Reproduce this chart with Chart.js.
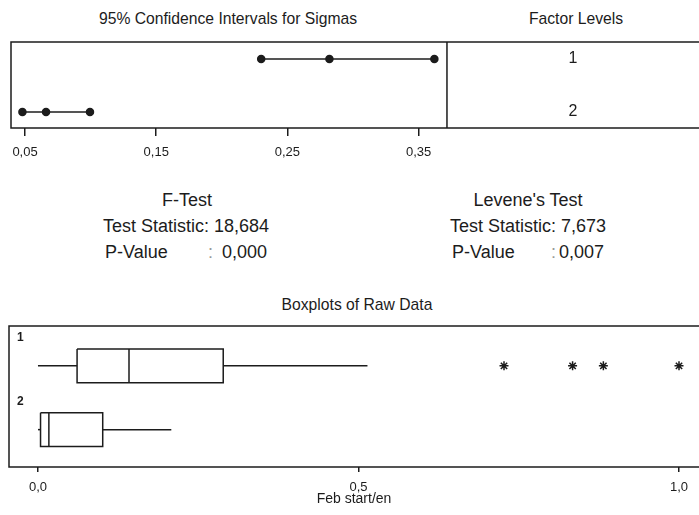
<!DOCTYPE html>
<html>
<head>
<meta charset="utf-8">
<script src="https://cdn.jsdelivr.net/npm/chart.js@4.4.1/dist/chart.umd.min.js"></script>
<style>
    html, body { margin: 0; padding: 0; background: #fff; overflow: hidden; }
    body { width: 699px; height: 515px; position: relative; font-family: "Liberation Sans", Arial, sans-serif; color: #1c1c1c; }
    canvas { position: absolute; left: 0; }
    .label { position: absolute; white-space: pre; line-height: 1; transform: translateY(-50%); }
    .center { transform: translate(-50%, -50%); }
    .title { font-size: 15.7px; }
    .stat { font-size: 18px; }
</style>
</head>
<body>
<div class="label center title" style="left:228px; top:19px;">95% Confidence Intervals for Sigmas</div>
<div class="label center title" style="left:576px; top:19px;">Factor Levels</div>
<div class="label center title" style="left:357px; top:305px;">Boxplots of Raw Data</div>
<div id="stats"></div>
<canvas id="sigmaChart" width="699" height="180" style="top:0"></canvas>
<canvas id="rawChart" width="699" height="235" style="top:280px"></canvas>
<script>
// level names and the 95% CIs for sigma
const levels = ['1', '2'];
const sigmaLower = [0.230, 0.048];
const sigmaEstimate = [0.282, 0.066];
const sigmaUpper = [0.362, 0.0995];
const sigmaTicks = [0.05, 0.15, 0.25, 0.35];

// boxplot summaries of the raw data
const boxMin = [0.0, 0.0];
const boxQ1 = [0.061, 0.004];
const boxMedian = [0.142, 0.017];
const boxQ3 = [0.289, 0.101];
const boxMax = [0.514, 0.208];
const boxOutliers = [[0.727, 0.834, 0.882, 1.0], []];
const rawTicks = [0, 0.5, 1.0];

// test results
const testNames = ['F-Test', "Levene's Test"];
const testStatistics = ['18,684', '7,673'];
const pValues = ['0,000', '0,007'];

const ink = '#1c1c1c';
const font = '"Liberation Sans", Arial, sans-serif';
const comma = (digits) => (value) => Number(value).toFixed(digits).replace('.', ',');

// stats text blocks
const statLayout = [
    { title: 187, left: 103, colon: 208, value: 222 },
    { title: 528, left: 450, colon: 551, value: 559 },
];
const statsRoot = document.getElementById('stats');
testNames.forEach((name, i) => {
    const s = statLayout[i];
    statsRoot.insertAdjacentHTML('beforeend', `
        <div class="label center stat" style="left:${s.title}px; top:200px;">${name}</div>
        <div class="label stat" style="left:${s.left}px; top:226px;">Test Statistic: ${testStatistics[i]}</div>
        <div class="label stat" style="left:${s.left + 2}px; top:252px;">P-Value</div>
        <div class="label stat" style="left:${s.colon}px; top:252px; color:#999;">:</div>
        <div class="label stat" style="left:${s.value}px; top:252px;">${pValues[i]}</div>`);
});

const framePlugin = {
    id: 'frame',
    afterDraw(chart, _args, opts) {
        const { ctx, chartArea: { left, right, top, bottom } } = chart;
        ctx.save();
        ctx.strokeStyle = ink;
        ctx.lineWidth = 1.5;
        ctx.beginPath();
        ctx.moveTo(right + 2, top);
        ctx.lineTo(left, top);
        ctx.lineTo(left, bottom);
        ctx.lineTo(right + 2, bottom);
        if (opts.divider != null) {
            const x = chart.scales.x.getPixelForValue(opts.divider);
            ctx.moveTo(x, top);
            ctx.lineTo(x, bottom);
        }
        ctx.stroke();

        ctx.fillStyle = ink;
        ctx.textBaseline = 'middle';
        if (opts.levelLabels) {
            const x0 = chart.scales.x.getPixelForValue(opts.divider);
            ctx.font = `16px ${font}`;
            ctx.textAlign = 'center';
            levels.forEach((name, i) => {
                ctx.fillText(name, (x0 + right) / 2, chart.scales.y.getPixelForValue(i + 1));
            });
        }
        if (opts.groupLabels) {
            ctx.font = `bold 12px ${font}`;
            ctx.textAlign = 'left';
            levels.forEach((name, i) => {
                ctx.fillText(name, left + 8, chart.scales.y.getPixelForValue(i + 1 - 0.44));
            });
        }
        ctx.restore();
    },
};

const xAxis = (min, max, ticks, digits, tickLength, padding, axisHeight) => ({
    type: 'linear',
    min,
    max,
    afterBuildTicks: (scale) => { scale.ticks = ticks.map((value) => ({ value })); },
    afterFit: (scale) => { scale.height = axisHeight; },
    ticks: { callback: comma(digits), color: ink, font: { family: font, size: 13 }, padding, maxRotation: 0, autoSkip: false },
    grid: { drawOnChartArea: false, drawTicks: true, tickLength, color: ink, lineWidth: 1.5 },
    border: { display: false },
});

// 95% CI for sigmas
const sigmaSets = levels.map((name, i) => ({
    label: name,
    data: [sigmaLower[i], sigmaEstimate[i], sigmaUpper[i]].map((x) => ({ x, y: i + 1 })),
    showLine: true,
    borderColor: ink,
    borderWidth: 1.5,
    pointRadius: 3.5,
    pointBackgroundColor: ink,
    pointBorderColor: ink,
}));

new Chart(document.getElementById('sigmaChart'), {
    type: 'scatter',
    data: { datasets: sigmaSets },
    options: {
        responsive: false,
        animation: false,
        layout: { autoPadding: false, padding: { left: 11, top: 42, right: 0, bottom: 0 } },
        plugins: {
            legend: { display: false },
            tooltip: { enabled: false },
            frame: { divider: 0.3716, levelLabels: true },
        },
        scales: {
            x: xAxis(0.0393, 0.5637, sigmaTicks, 2, 8, 9, 52),
            y: { type: 'linear', reverse: true, min: 0.679, max: 2.302, display: false },
        },
    },
    plugins: [framePlugin],
});

// boxplots drawn as line segments on the scales
const half = 0.266;
const seg = (points) => ({
    data: points.map(([x, y]) => ({ x, y })),
    showLine: true,
    borderColor: ink,
    borderWidth: 1.5,
    pointRadius: 0,
});
const rawSets = [];
levels.forEach((name, i) => {
    const y = i + 1;
    rawSets.push(seg([[boxQ1[i], y - half], [boxQ3[i], y - half], [boxQ3[i], y + half], [boxQ1[i], y + half], [boxQ1[i], y - half]]));
    rawSets.push(seg([[boxMedian[i], y - half], [boxMedian[i], y + half]]));
    rawSets.push(seg([[boxMin[i], y], [boxQ1[i], y]]));
    rawSets.push(seg([[boxQ3[i], y], [boxMax[i], y]]));
    rawSets.push({
        data: boxOutliers[i].map((x) => ({ x, y })),
        pointStyle: 'star',
        pointRadius: 4.5,
        borderColor: ink,
        borderWidth: 1.5,
    });
});

const rawX = xAxis(-0.0452, 1.0312, rawTicks, 1, 5, 8, 48);
rawX.title = { display: true, text: 'Feb start/en', color: ink, font: { family: font, size: 14 }, padding: { top: 0, bottom: 7 } };

new Chart(document.getElementById('rawChart'), {
    type: 'scatter',
    data: { datasets: rawSets },
    options: {
        responsive: false,
        animation: false,
        layout: { autoPadding: false, padding: { left: 9, top: 46, right: 0, bottom: 0 } },
        plugins: {
            legend: { display: false },
            tooltip: { enabled: false },
            frame: { groupLabels: true },
        },
        scales: {
            x: rawX,
            y: { type: 'linear', reverse: true, min: 0.375, max: 2.586, display: false },
        },
    },
    plugins: [framePlugin],
});
</script>
</body>
</html>
